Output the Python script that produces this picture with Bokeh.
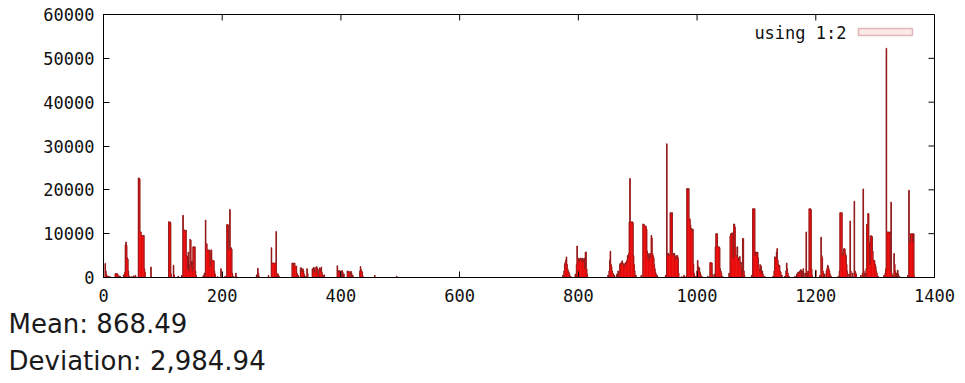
from bokeh.plotting import figure
from bokeh.models import (ColumnDataSource, Range1d, FixedTicker,
                          PrintfTickFormatter, Label, BoxAnnotation, Title)
from bokeh.embed import file_html
from bokeh.resources import INLINE

# ---- data: index (column 1) and value (column 2); rows not listed are 0 ----
n_rows = 1367
idx_a = [3, 4, 5, 6, 8, 11, 20, 21, 22, 23, 24, 26, 28, 34, 36, 37, 38, 39, 40, 41, 42, 44, 48, 51, 54,
         59, 60, 61, 62, 63, 64, 65, 66, 67, 68, 69, 70, 80]
val_a = [3200, 1500, 600, 400, 300, 200, 900, 900, 800, 900, 700, 400, 300, 600, 1200, 7500, 8100, 7300, 4500, 4200, 1500, 300, 200, 400, 500,
         22700, 22700, 22500, 10400, 10400, 9600, 9600, 9600, 9400, 9600, 2000, 1200, 2400]

idx_b = [110, 111, 112, 113, 114, 118, 119, 126, 132, 134, 135, 136, 137, 138, 139, 140, 141, 142, 143, 144, 145, 146, 147, 148,
         149, 150, 151, 152, 153, 154, 155, 156, 168, 170, 172, 173, 174, 175, 176, 177, 178, 179, 180, 181, 182, 183, 184, 185,
         186, 187, 188, 192, 198, 205, 208, 209, 210, 211, 212, 213, 214, 215, 216, 217, 219, 223, 224]
val_b = [12700, 12600, 12700, 12500, 800, 2800, 600, 300, 500, 14200, 11000, 10800, 10800, 10500, 10800, 5000, 4800, 2000, 5800, 1500, 3000, 8700, 8500, 2500,
         3700, 1500, 7000, 7000, 6800, 7000, 1500, 500, 400, 1000, 13100, 7700, 7700, 6300, 6300, 6300, 6300, 5500, 2500, 6200, 6300, 3900, 3900, 3900,
         3800, 1500, 800, 200, 2000, 300, 12100, 12100, 12000, 6500, 6300, 15500, 6800, 6800, 6500, 1000, 300, 1000, 300]

idx_c = [258, 260, 261, 262, 278, 283, 284, 285, 286, 287, 288, 289, 290, 291, 292, 294, 296,
         318, 319, 320, 321, 322, 323, 324, 325, 326, 328, 332, 333, 334, 335, 336, 337, 338, 340, 343, 344,
         352, 353, 354, 355, 356, 357, 358, 359, 360, 361, 363, 364, 365, 366, 367, 368, 370, 372,
         394, 395, 396, 397, 398, 399, 400, 402, 403, 405, 411, 412, 413, 414, 415, 417, 418, 420,
         432, 433, 434, 435, 436, 437, 457, 494]
val_c = [600, 2100, 1000, 300, 500, 6800, 3300, 3300, 3300, 3300, 3300, 3300, 3300, 10500, 1000, 800, 300,
         3300, 3300, 3000, 3300, 3300, 2600, 2500, 2600, 1000, 500, 2200, 2200, 1300, 1800, 2000, 1500, 800, 300, 2000, 900,
         2000, 1500, 2300, 2200, 1200, 1500, 2300, 2500, 2200, 800, 1800, 2200, 2000, 1500, 2400, 1200, 500, 600,
         2700, 1200, 1500, 1600, 1400, 1000, 1500, 1600, 1300, 800, 1500, 1200, 1400, 1300, 1200, 1400, 1000, 500,
         1500, 2500, 1800, 1500, 1200, 300, 500, 300]

idx_d = [774, 776, 777, 778, 779, 780, 781, 782, 783, 784, 785, 787,
         795, 797, 798, 799, 800, 801, 802, 803, 804, 805, 806, 807, 808, 809, 810, 811, 812, 813, 814, 815,
         850, 852, 853, 854, 855, 856, 857, 858, 859, 861,
         865, 867, 869, 870, 871, 872, 873, 874, 875, 876, 877, 878, 879, 880, 881, 882, 883, 884, 885, 886,
         887, 888, 889, 890, 891, 892, 893, 894, 895, 897]
val_d = [500, 1500, 3000, 3500, 4000, 4700, 3000, 2000, 1500, 1200, 800, 300,
         800, 3000, 7200, 4400, 4400, 3600, 4200, 4400, 4400, 3800, 4400, 4400, 3600, 4200, 4400, 2000, 5800, 5800, 2000, 800,
         500, 1500, 4000, 6000, 3000, 2500, 1500, 1000, 800, 500,
         800, 1500, 1000, 3000, 3300, 3000, 3500, 3800, 3300, 3000, 2500, 3000, 3300, 3500, 3200, 4000, 5000, 4500, 5500, 12700,
         22600, 12700, 12700, 12500, 12700, 12500, 5000, 3000, 1500, 500]

idx_e = [906, 909, 910, 911, 912, 913, 914, 915, 916, 917, 918, 919, 920, 921, 922, 923, 924, 925, 926, 927, 928, 929, 930, 931, 933,
         947, 949, 950, 951, 952, 953, 954, 955, 956, 957, 958, 959, 960, 961, 962, 963, 964, 965, 966, 967, 968, 969,
         974, 978, 982, 983, 984, 985, 986, 987, 988, 989, 990, 991, 992, 993, 994, 995, 997,
         1000, 1001, 1002, 1003, 1004, 1005, 1006, 1008]
val_e = [500, 12200, 12200, 12000, 11800, 11700, 11700, 11000, 6000, 5000, 4000, 5500, 5000, 4500, 5500, 9600, 9000, 5500, 5000, 4500, 3000, 2000, 1200, 800, 400,
         500, 30500, 5000, 5500, 5500, 5000, 5200, 14800, 14800, 14600, 14800, 5200, 5500, 5000, 5500, 4800, 4000, 5000, 4700, 5000, 4500, 1000,
         200, 500, 400, 20300, 20300, 20000, 20300, 13500, 13300, 12000, 11000, 11200, 10500, 11000, 3000, 1000, 300,
         1500, 3900, 2500, 1500, 2200, 1200, 800, 300]

idx_f = [1018, 1022, 1023, 1024, 1025, 1026, 1029, 1031, 1032, 1033, 1034, 1035, 1036, 1037, 1038, 1039, 1040, 1041, 1043,
         1054, 1056, 1057, 1058, 1059, 1060, 1061, 1062, 1063, 1064, 1065, 1066, 1067, 1068, 1069, 1070, 1071, 1072, 1073,
         1074, 1075, 1077, 1078, 1079, 1080,
         1092, 1094, 1095, 1096, 1097, 1098, 1099, 1100, 1101, 1102, 1103, 1104, 1105, 1106, 1107, 1108, 1109, 1110, 1111, 1114]
val_f = [300, 3400, 3400, 3400, 3300, 500, 800, 7000, 10000, 10000, 10000, 7000, 7000, 7000, 6800, 2000, 1500, 1000, 300,
         1000, 9500, 10000, 10000, 10200, 10000, 4500, 12200, 12200, 11500, 7000, 5000, 4900, 7000, 4500, 4000, 4500, 4800, 3000,
         3500, 2000, 8900, 8900, 1500, 500,
         500, 15700, 15700, 15500, 15700, 5000, 5800, 5800, 5500, 5800, 4500, 3000, 2000, 1500, 2900, 2500, 1000, 1500, 800, 300]

idx_g = [1128, 1130, 1131, 1132, 1133, 1134, 1135, 1136, 1137, 1138, 1139, 1140, 1141, 1143, 1148, 1150, 1151, 1152, 1153, 1155,
         1165, 1168, 1170, 1171, 1172, 1173, 1174, 1175, 1177, 1179, 1182, 1184, 1185, 1186, 1188, 1189, 1190, 1191, 1192, 1193, 1194,
         1200, 1207, 1209, 1210, 1211, 1212, 1213, 1215, 1218, 1219, 1220, 1221, 1222, 1223, 1224, 1226]
val_g = [300, 1500, 4700, 4700, 4500, 5800, 6600, 4000, 3000, 2500, 2800, 1500, 1200, 500, 300, 1500, 3300, 2000, 1000, 300,
         300, 800, 1200, 1200, 1000, 1500, 1200, 1800, 1500, 2000, 1000, 10400, 1500, 1000, 1500, 15700, 15700, 15700, 15500, 2000, 500,
         1700, 500, 9200, 5000, 4500, 1500, 1000, 800, 1500, 2000, 2800, 2500, 2000, 1500, 800, 300]

idx_h = [1238, 1240, 1241, 1242, 1243, 1244, 1245, 1246, 1247, 1248, 1249, 1250, 1251, 1252, 1253, 1256, 1258, 1259, 1262,
         1265, 1266, 1267, 1268, 1276, 1279, 1280, 1281, 1283, 1285, 1286, 1287, 1288, 1289, 1290, 1291, 1292, 1293, 1294,
         1295, 1296, 1297, 1298, 1299, 1300, 1301, 1302, 1303, 1305,
         1315, 1317, 1318, 1319, 1320, 1321, 1322, 1323, 1324, 1325, 1326, 1327, 1328, 1330, 1332, 1333, 1334, 1336, 1338, 1339, 1341,
         1355, 1357, 1358, 1359, 1360, 1361, 1362, 1363, 1364, 1365, 1366]
val_h = [300, 1500, 14800, 14800, 14700, 14800, 5000, 5500, 6500, 6600, 6500, 5500, 5000, 3000, 1500, 800, 12900, 1500, 1000,
         17400, 1500, 1200, 800, 500, 1000, 20200, 1500, 1000, 2000, 12100, 12000, 14600, 14600, 8000, 3000, 9500, 9400, 9500,
         9300, 6000, 4000, 3900, 3900, 3000, 2500, 1500, 1000, 300,
         500, 1000, 2000, 52300, 10400, 10400, 10300, 10400, 10200, 10400, 1500, 17200, 1000, 500, 5500, 3000, 1500, 1000, 1700, 800, 300,
         500, 19900, 8200, 8000, 10000, 10000, 10000, 10000, 8200, 10000, 500]

x_ticks = [0, 200, 400, 600, 800, 1000, 1200, 1400]
y_ticks = [0, 10000, 20000, 30000, 40000, 50000, 60000]
legend_label = "using 1:2"
stats_lines = ["Mean: 868.49", "Deviation: 2,984.94"]

X_MAX, Y_MAX = 1400, 60000
FRAME_W, FRAME_H = 831, 263
TICK_PX = 6

# full table: every row 0..n_rows-1, value 0 where not listed
values = [0] * n_rows
for ix, vv in zip(idx_a + idx_b + idx_c + idx_d + idx_e + idx_f + idx_g + idx_h,
                  val_a + val_b + val_c + val_d + val_e + val_f + val_g + val_h):
    values[ix] = vv
rows = list(range(n_rows))
src = ColumnDataSource(data=dict(x=rows, top=values))

p = figure(width=965, height=383, output_backend="svg", toolbar_location=None,
           x_range=Range1d(0, X_MAX), y_range=Range1d(0, Y_MAX),
           min_border_left=103, min_border_right=31, min_border_top=14, min_border_bottom=10)
p.frame_width = FRAME_W
p.frame_height = FRAME_H
p.xgrid.visible = False
p.ygrid.visible = False
p.outline_line_color = "black"
p.outline_line_width = 1
p.background_fill_color = "white"

# boxes: red fill, dark red box borders (envelope drawn as a step outline)
p.vbar(x="x", top="top", bottom=0, width=1.6, source=src,
       fill_color="#e80000", line_color=None)
p.step(x="x", y="top", mode="center", source=src,
       line_color="#8a1c1c", line_width=1, line_alpha=0.9)

# mirrored inward ticks on top and right borders (gnuplot style)
dy = Y_MAX * TICK_PX / FRAME_H
dx = X_MAX * TICK_PX / FRAME_W
p.segment(x0=x_ticks, y0=[Y_MAX] * len(x_ticks), x1=x_ticks, y1=[Y_MAX - dy] * len(x_ticks),
          line_color="black", line_width=1)
p.segment(x0=[X_MAX] * len(y_ticks), y0=y_ticks, x1=[X_MAX - dx] * len(y_ticks), y1=y_ticks,
          line_color="black", line_width=1)

tick_font = "DejaVu Sans Mono"
for ax in (p.xaxis[0], p.yaxis[0]):
    ax.major_tick_in = TICK_PX
    ax.major_tick_out = 0
    ax.minor_tick_in = 0
    ax.minor_tick_out = 0
    ax.axis_line_color = "black"
    ax.major_tick_line_color = "black"
    ax.major_label_text_font = tick_font
    ax.major_label_text_font_size = "17px"
    ax.major_label_text_color = "#111111"
    ax.formatter = PrintfTickFormatter(format="%d")
p.xaxis[0].ticker = FixedTicker(ticks=x_ticks)
p.yaxis[0].ticker = FixedTicker(ticks=y_ticks)
p.xaxis[0].major_label_standoff = 11
p.yaxis[0].major_label_standoff = 9

# legend (gnuplot-style: label left of the sample)
p.add_layout(Label(x=743, y=245, x_units="screen", y_units="screen", text=legend_label,
                   text_font=tick_font, text_font_size="17px", text_align="right",
                   text_baseline="middle", text_color="#111111"))
p.add_layout(BoxAnnotation(left=755, right=809, bottom=242, top=249,
                           left_units="screen", right_units="screen",
                           bottom_units="screen", top_units="screen",
                           fill_color="#fde8e8", fill_alpha=1.0,
                           line_color="#a02828", line_width=1.5))

# statistics text under the plot
for i, t in enumerate(stats_lines):
    p.add_layout(Title(text=t, align="left", offset=-95, standoff=5 if i else 5,
                       text_font="DejaVu Sans", text_font_size="26px",
                       text_font_style="normal", text_color="#1a1a1a"), "below")

open("out.html", "w").write(file_html(p, INLINE))
